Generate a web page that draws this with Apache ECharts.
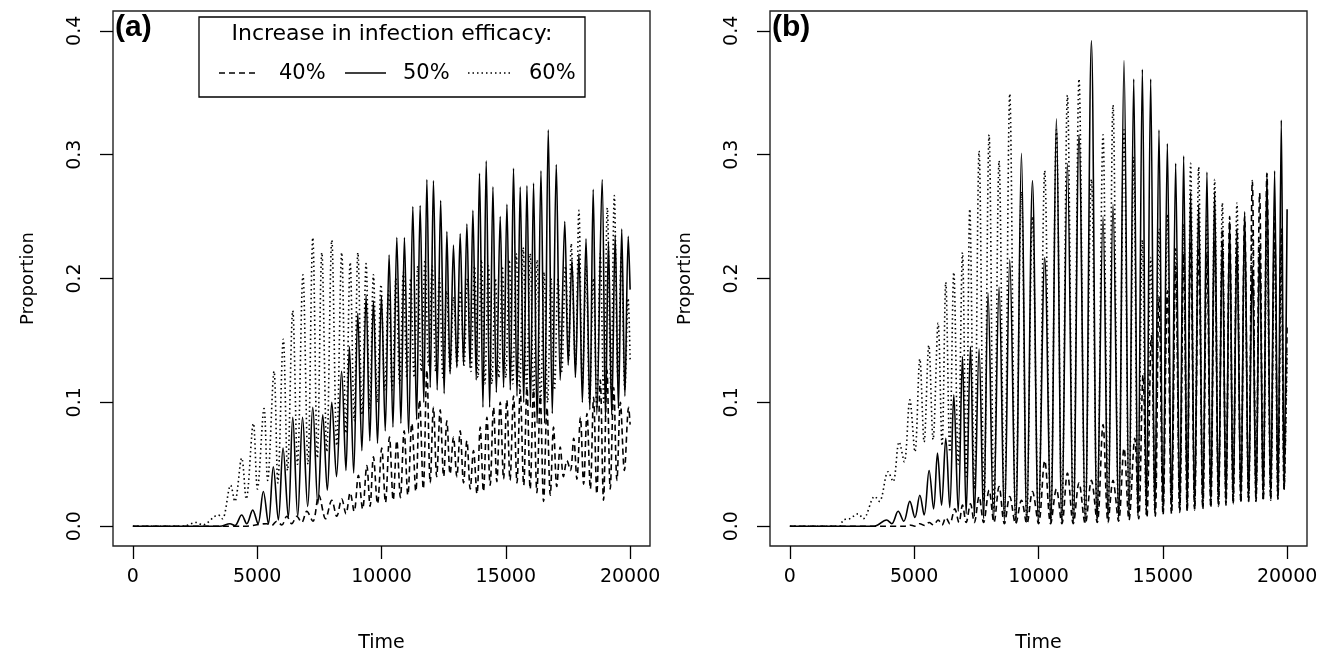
<!DOCTYPE html>
<html>
<head>
<meta charset="utf-8">
<script src="https://cdn.jsdelivr.net/npm/echarts@6/dist/echarts.min.js"></script>
<style>
html, body { margin: 0; padding: 0; background: #fff; }
#chart { width: 1329px; height: 653px; }
</style>
</head>
<body>
<div id="chart"></div>
<script>
// tick labels
var timeTicks = [0, 5000, 10000, 15000, 20000];
var propTicks = [0, 0.1, 0.2, 0.3, 0.4];
var legendNames = ['40%', '50%', '60%'];

// panel (a), [time, proportion] at peaks and troughs
var a40 = [[0,0],[4500,0],[5380,.002],[5580,.0005],[5785,.004],[5990,.001],[6190,.008],[6390,.002],[6590,.008],[6790,.003],[6995,.012],[7240,.004],[7480,.025],[7750,.006],[8000,.021],[8200,.008],[8400,.022],[8570,.010],[8740,.027],[8900,.012],[9070,.041],[9240,.014],[9410,.049],[9540,.016],[9675,.056],[9840,.018],[10010,.063],[10160,.019],[10320,.072],[10470,.021],[10616,.069],[10760,.023],[10910,.077],[11060,.025],[11220,.083],[11380,.028],[11530,.102],[11680,.030],[11825,.126],[11960,.035],[12090,.096],[12220,.040],[12360,.094],[12500,.040],[12630,.085],[12760,.042],[12895,.072],[13030,.040],[13165,.077],[13300,.035],[13435,.069],[13570,.030],[13700,.061],[13840,.026],[13970,.080],[14100,.028],[14240,.088],[14370,.033],[14505,.096],[14640,.036],[14775,.100],[14910,.038],[15040,.102],[15170,.037],[15310,.105],[15450,.035],[15580,.110],[15720,.033],[15850,.112],[15980,.030],[16115,.110],[16250,.027],[16385,.105],[16520,.020],[16655,.096],[16790,.025],[16920,.080],[17050,.032],[17190,.064],[17320,.040],[17460,.053],[17600,.045],[17730,.071],[17860,.038],[18000,.088],[18130,.034],[18265,.091],[18400,.030],[18530,.104],[18660,.026],[18800,.118],[18930,.021],[19070,.126],[19200,.030],[19340,.112],[19470,.037],[19610,.100],[19770,.045],[19940,.096],[20000,.082]];
var a50 = [[0,0],[3500,0],[3905,.002],[4100,.0005],[4376,.009],[4580,.002],[4819,.013],[5030,.002],[5246,.028],[5450,.002],[5648,.048],[5850,.005],[6040,.063],[6250,.007],[6430,.088],[6630,.008],[6825,.088],[7030,.016],[7235,.096],[7440,.018],[7637,.090],[7820,.029],[8000,.100],[8190,.040],[8395,.125],[8570,.045],[8708,.145],[8880,.043],[9046,.172],[9210,.061],[9380,.186],[9530,.069],[9675,.182],[9840,.067],[9997,.186],[10150,.077],[10306,.219],[10460,.080],[10616,.233],[10780,.083],[10922,.233],[11090,.075],[11260,.258],[11410,.086],[11555,.259],[11700,.100],[11825,.280],[11960,.112],[12090,.279],[12240,.110],[12380,.263],[12520,.107],[12630,.238],[12760,.123],[12895,.227],[13030,.128],[13165,.236],[13300,.130],[13435,.244],[13560,.128],[13676,.255],[13810,.118],[13942,.285],[14080,.096],[14212,.295],[14350,.096],[14482,.274],[14620,.108],[14775,.250],[14910,.112],[15045,.260],[15180,.110],[15310,.289],[15450,.105],[15580,.274],[15720,.100],[15850,.275],[15990,.096],[16116,.277],[16260,.083],[16414,.287],[16560,.083],[16708,.320],[16870,.091],[17030,.292],[17190,.118],[17372,.246],[17510,.130],[17660,.215],[17800,.120],[17940,.220],[18080,.100],[18226,.232],[18380,.094],[18515,.272],[18660,.090],[18875,.280],[19010,.088],[19130,.230],[19260,.090],[19400,.235],[19530,.095],[19663,.240],[19790,.105],[19925,.234],[20000,.191]];
var a60 = [[0,0],[2000,0],[2550,.003],[2800,.001],[3435,.009],[3600,.006],[3933,.033],[4100,.020],[4376,.055],[4560,.022],[4845,.083],[5010,.030],[5275,.095],[5420,.037],[5677,.125],[5830,.035],[6050,.151],[6220,.045],[6430,.174],[6620,.050],[6840,.203],[7040,.050],[7235,.233],[7420,.055],[7600,.221],[7800,.060],[8000,.231],[8200,.065],[8400,.221],[8570,.075],[8740,.213],[8900,.085],[9050,.221],[9220,.090],[9380,.212],[9530,.095],[9675,.203],[9830,.100],[9980,.195],[10130,.110],[10280,.190],[10430,.110],[10580,.200],[10730,.115],[10880,.205],[11020,.120],[11170,.200],[11310,.120],[11460,.210],[11600,.125],[11750,.215],[11890,.130],[12040,.210],[12180,.125],[12330,.200],[12470,.120],[12620,.190],[12760,.125],[12900,.185],[13040,.130],[13180,.190],[13320,.130],[13460,.200],[13600,.125],[13740,.210],[13880,.120],[14020,.215],[14160,.115],[14300,.210],[14440,.115],[14580,.200],[14720,.120],[14860,.210],[15000,.120],[15140,.215],[15280,.115],[15420,.220],[15560,.110],[15700,.225],[15840,.110],[15980,.220],[16120,.105],[16260,.215],[16400,.100],[16540,.205],[16680,.100],[16820,.200],[16960,.110],[17100,.200],[17250,.125],[17400,.210],[17530,.135],[17630,.228],[17800,.130],[17940,.255],[18080,.115],[18230,.210],[18370,.100],[18520,.200],[18660,.095],[18800,.220],[18940,.100],[19083,.257],[19230,.110],[19365,.267],[19510,.120],[19650,.220],[19790,.110],[19920,.184],[20000,.134]];

// panel (b)
var b40 = [[0,0],[4600,0],[4824,.001],[5030,0],[5226,.002],[5420,.0005],[5600,.003],[5780,.001],[5962,.005],[6120,.001],[6271,.007],[6430,.002],[6633,.014],[6800,.003],[6942,.017],[7090,.003],[7264,.018],[7420,.003],[7610,.024],[7790,.003],[8012,.029],[8210,.003],[8414,.032],[8630,.002],[8844,.024],[9080,.002],[9314,.021],[9530,.002],[9756,.028],[10000,.002],[10250,.053],[10490,.002],[10720,.030],[10940,.002],[11163,.043],[11400,.002],[11630,.035],[11880,.002],[12128,.037],[12360,.003],[12595,.082],[12800,.003],[12997,.037],[13220,.004],[13440,.063],[13640,.005],[13870,.071],[14030,.006],[14204,.122],[14360,.007],[14540,.154],[14700,.008],[14846,.185],[15010,.009],[15183,.190],[15350,.010],[15517,.210],[15680,.011],[15839,.220],[15980,.012],[16120,.230],[16280,.013],[16442,.225],[16610,.014],[16775,.220],[16930,.015],[17085,.230],[17240,.016],[17395,.240],[17540,.017],[17688,.250],[17830,.018],[17982,.240],[18140,.019],[18291,.250],[18450,.020],[18600,.279],[18750,.020],[18894,.269],[19040,.021],[19188,.285],[19340,.022],[19497,.250],[19630,.022],[19766,.240],[19880,.030],[20000,.162]];
var b50 = [[0,0],[3400,0],[3887,.005],[4100,.002],[4354,.012],[4580,.004],[4824,.020],[5030,.007],[5226,.025],[5400,.009],[5600,.045],[5780,.014],[5937,.059],[6100,.017],[6271,.071],[6430,.015],[6593,.106],[6770,.012],[6942,.137],[7090,.010],[7264,.145],[7420,.008],[7610,.143],[7790,.006],[7972,.188],[8190,.005],[8414,.193],[8630,.004],[8844,.215],[9080,.003],[9314,.301],[9530,.003],[9756,.279],[10000,.003],[10250,.217],[10490,.003],[10720,.329],[10940,.003],[11163,.293],[11400,.003],[11630,.316],[11880,.003],[12128,.392],[12360,.004],[12595,.250],[12800,.005],[12997,.260],[13220,.006],[13440,.376],[13640,.007],[13830,.361],[14000,.008],[14178,.369],[14340,.009],[14512,.361],[14680,.010],[14846,.320],[15010,.011],[15183,.309],[15350,.012],[15517,.293],[15680,.013],[15839,.299],[15980,.014],[16120,.270],[16280,.015],[16442,.260],[16610,.016],[16775,.286],[16930,.017],[17085,.270],[17240,.018],[17395,.230],[17540,.019],[17688,.246],[17830,.020],[17982,.230],[18140,.020],[18291,.254],[18450,.021],[18600,.210],[18750,.022],[18894,.225],[19040,.022],[19188,.285],[19340,.023],[19497,.287],[19630,.024],[19766,.328],[19880,.030],[20000,.256]];
var b60 = [[0,0],[2000,0],[2145,.005],[2400,.006],[2747,.010],[2950,.006],[3417,.024],[3600,.020],[3952,.044],[4150,.036],[4395,.068],[4600,.052],[4824,.102],[5030,.060],[5226,.135],[5400,.068],[5588,.146],[5760,.070],[5962,.164],[6120,.065],[6271,.197],[6430,.060],[6593,.205],[6770,.050],[6942,.221],[7090,.040],[7236,.256],[7420,.030],[7610,.303],[7810,.020],[8012,.316],[8210,.012],[8414,.295],[8630,.008],[8844,.349],[9080,.005],[9314,.270],[9530,.005],[9756,.250],[10000,.005],[10250,.287],[10490,.005],[10720,.320],[10940,.005],[11163,.348],[11400,.005],[11630,.361],[11880,.005],[12128,.280],[12360,.006],[12595,.316],[12800,.007],[12997,.340],[13220,.008],[13440,.320],[13640,.009],[13830,.298],[14000,.010],[14178,.231],[14340,.010],[14512,.217],[14680,.011],[14846,.240],[15010,.012],[15183,.252],[15350,.012],[15517,.225],[15680,.013],[15839,.244],[15980,.013],[16120,.293],[16280,.014],[16442,.290],[16610,.015],[16775,.250],[16930,.016],[17085,.280],[17240,.017],[17395,.261],[17540,.018],[17688,.220],[17830,.019],[17982,.261],[18140,.020],[18291,.230],[18450,.020],[18600,.240],[18750,.020],[18894,.230],[19040,.021],[19188,.240],[19340,.021],[19497,.230],[19630,.022],[19766,.230],[19880,.030],[20000,.140]];

var font = 'DejaVu Sans';
var dashed = [6, 4];
var dotted = [1.5, 3];

function xAxisFor(i) {
    return {
        type: 'value', gridIndex: i, min: -800, max: 20800,
        axisLine: { show: false, onZero: false },
        splitLine: { show: false },
        axisTick: { show: true, customValues: timeTicks, length: 13, lineStyle: { color: '#000', width: 1.3 } },
        axisLabel: { customValues: timeTicks, fontSize: 19, fontFamily: font, color: '#000', margin: 22,
            formatter: function (v) { return String(v); } },
        name: 'Time', nameLocation: 'middle', nameGap: 88,
        nameTextStyle: { fontSize: 19, fontFamily: font, color: '#000' }
    };
}
function yAxisFor(i) {
    return {
        type: 'value', gridIndex: i, min: -0.016, max: 0.416,
        axisLine: { show: false, onZero: false },
        splitLine: { show: false },
        axisTick: { show: true, customValues: propTicks, length: 13, lineStyle: { color: '#000', width: 1.3 } },
        axisLabel: { customValues: propTicks, rotate: 90, fontSize: 19, fontFamily: font, color: '#000', margin: 28,
            formatter: function (v) { return v.toFixed(1); } },
        name: 'Proportion', nameLocation: 'middle', nameGap: 76, nameRotate: 90,
        nameTextStyle: { fontSize: 18, fontFamily: font, color: '#000' }
    };
}
function line(data, i, type) {
    return {
        type: 'line', data: data, xAxisIndex: i, yAxisIndex: i,
        showSymbol: false, smooth: 0.35, animation: false, silent: true,
        lineStyle: { color: '#000', width: 1.6, type: type }
    };
}

var chart = echarts.init(document.getElementById('chart'));
chart.setOption({
    backgroundColor: '#fff',
    animation: false,
    grid: [
        { left: 113, top: 11, width: 537, height: 535, outerBoundsMode: 'none', containLabel: false, show: true, borderColor: '#222', borderWidth: 1.4, backgroundColor: 'transparent' },
        { left: 770, top: 11, width: 537, height: 535, outerBoundsMode: 'none', containLabel: false, show: true, borderColor: '#222', borderWidth: 1.4, backgroundColor: 'transparent' }
    ],
    xAxis: [xAxisFor(0), xAxisFor(1)],
    yAxis: [yAxisFor(0), yAxisFor(1)],
    series: [
        line(a40, 0, dashed), line(a60, 0, dotted), line(a50, 0, 'solid'),
        line(b40, 1, dashed), line(b60, 1, dotted), line(b50, 1, 'solid')
    ],
    graphic: [
        { type: 'text', left: 115, top: 13, style: { text: '(a)', font: 'bold 30px "Liberation Sans"', fill: '#000' } },
        { type: 'text', left: 772, top: 13, style: { text: '(b)', font: 'bold 30px "Liberation Sans"', fill: '#000' } },
        { type: 'rect', shape: { x: 199, y: 17, width: 386, height: 80 }, style: { fill: '#fff', stroke: '#000', lineWidth: 1.3 }, z: 10 },
        { type: 'text', x: 392, y: 34, z: 11, style: { text: 'Increase in infection efficacy:', font: '22px "DejaVu Sans"', fill: '#000', align: 'center', verticalAlign: 'middle' } },
        { type: 'line', z: 11, shape: { x1: 219, y1: 73, x2: 259, y2: 73 }, style: { stroke: '#000', lineWidth: 1.3, lineDash: dashed } },
        { type: 'line', z: 11, shape: { x1: 345, y1: 73, x2: 386, y2: 73 }, style: { stroke: '#000', lineWidth: 1.3 } },
        { type: 'line', z: 11, shape: { x1: 468, y1: 73, x2: 511, y2: 73 }, style: { stroke: '#000', lineWidth: 1.3, lineDash: dotted } },
        { type: 'text', x: 279, y: 74, z: 11, style: { text: legendNames[0], font: '21px "DejaVu Sans"', fill: '#000', verticalAlign: 'middle' } },
        { type: 'text', x: 403, y: 74, z: 11, style: { text: legendNames[1], font: '21px "DejaVu Sans"', fill: '#000', verticalAlign: 'middle' } },
        { type: 'text', x: 529, y: 74, z: 11, style: { text: legendNames[2], font: '21px "DejaVu Sans"', fill: '#000', verticalAlign: 'middle' } }
    ]
});
</script>
</body>
</html>
